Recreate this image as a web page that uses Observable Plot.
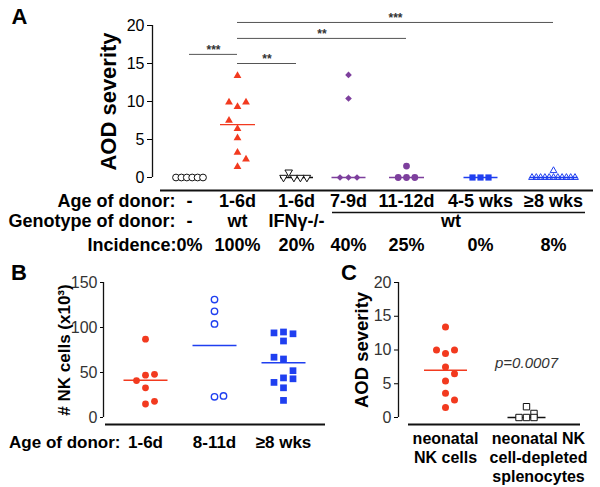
<!DOCTYPE html>
<html>
<head>
<meta charset="utf-8">
<script src="https://cdn.jsdelivr.net/npm/d3@7"></script>
<script src="https://cdn.jsdelivr.net/npm/@observablehq/plot@0.6"></script>
<style>
  html, body { margin: 0; padding: 0; background: #fff; }
  #fig { position: relative; width: 600px; height: 487px; overflow: hidden; }
</style>
</head>
<body>
<div id="fig"></div>
<script>
// ================= DATA =================
// ---- Panel A: AOD severity by donor ----
const groupsA = ["none", "1-6d wt", "1-6d IFNγ-/-", "7-9d wt", "11-12d wt", "4-5 wks wt", "≥8 wks wt"];
const ageA = ["-", "1-6d", "1-6d", "7-9d", "11-12d", "4-5 wks", "≥8 wks"];
const incidenceA = ["0%", "100%", "20%", "40%", "25%", "0%", "8%"];
const genotypeA = ["-", "wt", "IFNγ-/-", "wt"];
const genotypeSpanA = [[0, 0], [1, 1], [2, 2], [3, 6]];
const rowLabelsA = ["Age of donor:", "Genotype of donor:", "Incidence:"];

const sevNone = [0, 0, 0, 0, 0, 0];
const sevNeo = [13.4, 9.9, 9.9, 9.3, 7.5, 6.4, 5.2, 3.3, 2.4, 1.4];
const sevIfng = [0.7, 0, 0, 0, 0];
const sev79 = [13.5, 10.4, 0, 0, 0];
const sev1112 = [1.5, 0, 0, 0];
const sev45w = [0, 0, 0];
const sev8w = [0.9, 0, 0, 0, 0, 0, 0, 0, 0, 0, 0, 0];
// swarm column of each point inside its group
const colNone = [-2.5, -1.5, -0.5, 0.5, 1.5, 2.5];
const colNeo = [0, -1, 1, 0, -1, 0, 0, 0, 1, 0];
const colIfng = [-1.2, -2, -0.4, 0.6, 1.6];
const col79 = [0, 0, -1, 0, 1];
const col1112 = [0, -1, 0, 1];
const col45w = [-1, 0, 1];
const col8w = [0, -5, -4, -3, -2, -1, 0, 1, 2, 3, 4, 5];

const compFrom = [0, 1, 1, 1];
const compTo = [1, 2, 4, 6];
const compStars = ["***", "**", "**", "***"];
const compLevel = [16.2, 15.0, 18.3, 20.4];

// ---- Panel B: NK cell numbers ----
const groupsB = ["1-6d", "8-11d", "≥8 wks"];
const nk16d = [87, 47, 48, 41, 33, 18, 15];
const colNk16d = [0, 0, 1, -1, 0, 1, 0];
const nk811d = [131, 118, 104, 23, 24];
const colNk811d = [0, 0, 0, 0, 1];
const nk8w = [94, 95, 93, 85, 67, 65, 52, 44, 39, 43, 33, 19];
const colNk8w = [-1, 0, 1, 0, -1, 0, 1, 0, -1, 1, 0, 0];

// ---- Panel C: AOD severity, NK cells vs depleted ----
const groupsC = ["neonatal\nNK cells", "neonatal NK\ncell-depleted\nsplenocytes"];
const sevNK = [13.4, 10, 10, 9.5, 7.5, 6.5, 5.4, 3.6, 2.6, 1.5];
const colNK = [0, -1, 1, 0, 0, 1, 0, 0, 1, 0];
const sevDepleted = [1.6, 0.6, 0, 0, 0];
const colDepleted = [0, 1, -1, 0, 1];
const pValueC = "p=0.0007";
const pValueLevelC = 8.1;

// ================= STYLE / HELPERS =================
const FONT = "'Liberation Sans', Arial, Helvetica, sans-serif";
const RED = "#f23a1f", PURPLE = "#7d3f9d", BLUE = "#1f3ff0", INK = "#111111", GRAY = "#555555";

const hline = {draw(ctx, size) { const w = Math.sqrt(size / Math.PI); ctx.moveTo(-w, 0); ctx.lineTo(w, 0); }};
const pts = (g, values, cols) => values.map((v, i) => ({g, v, col: cols[i]}));

function swarm(points, spacing, opts) {
  const cols = Array.from(new Set(points.map(d => d.col)));
  return cols.map(c => Plot.dot(points.filter(d => d.col === c), {x: "g", y: "v", dx: c * spacing, ...opts}));
}
function centerLine(points, reduce, halfWidth, color, sw = 1.3) {
  return Plot.dot(points, Plot.groupX({y: reduce}, {x: "g", y: "v", symbol: hline, r: halfWidth, fill: "none", stroke: color, strokeWidth: sw}));
}
function place(svg, left, top) {
  svg.style.position = "absolute";
  svg.style.left = left + "px";
  svg.style.top = top + "px";
  document.getElementById("fig").appendChild(svg);
}
const baseStyle = {fontFamily: FONT, fontSize: "16px", color: "#000", background: "white"};
const bold = {fontWeight: "bold"};
const mid = {textAnchor: "middle", lineAnchor: "middle"};

// ================= PANEL A =================
const xA = {domain: [-1, 0, 1, 2, 3, 4, 5, 6, 7], range: [152, 189, 237, 296, 348, 406, 480, 553, 593]};
const sxA = d3.scaleLinear().domain(xA.domain).range(xA.range);
const midA = (a, b) => sxA.invert((sxA(a) + sxA(b)) / 2);

const seriesA = [
  pts(0, sevNone, colNone), pts(1, sevNeo, colNeo), pts(2, sevIfng, colIfng),
  pts(3, sev79, col79), pts(4, sev1112, col1112), pts(5, sev45w, col45w), pts(6, sev8w, col8w)
];
const styleA = [
  {spacing: 5.4, line: INK, hw: 16, dot: {symbol: "circle", r: 3.4, fill: "white", stroke: INK, strokeWidth: 1}},
  {spacing: 8.5, line: RED, hw: 17.5, dot: {symbol: "triangle", r: 2.9, fill: RED, stroke: "none"}},
  {spacing: 6.5, line: INK, hw: 16.5, dot: {symbol: "triangle", rotate: 180, r: 2.8, fill: "white", stroke: INK, strokeWidth: 1}},
  {spacing: 8.5, line: PURPLE, hw: 17, dot: {symbol: "diamond2", r: 3, fill: PURPLE, stroke: "none"}},
  {spacing: 8.3, line: PURPLE, hw: 17.5, dot: {symbol: "circle", r: 3.4, fill: PURPLE, stroke: "none"}},
  {spacing: 8, line: BLUE, hw: 17, dot: {symbol: "square", r: 3.5, fill: BLUE, stroke: "none"}},
  {spacing: 4.3, line: BLUE, hw: 24, dot: {symbol: "triangle", r: 2.5, fill: "none", stroke: BLUE, strokeWidth: 1}}
];
const comps = compFrom.map((f, i) => ({from: f, to: compTo[i], stars: compStars[i], level: compLevel[i]}));

const marksA = [
  Plot.ruleX([-1], {y1: 0, y2: 20, stroke: INK, strokeWidth: 1.3}),
  Plot.ruleY([0], {insetLeft: 8, dy: 13, stroke: INK, strokeWidth: 1.8}),
  Plot.axisY({ticks: [0, 5, 10, 15, 20], tickSize: 5, tickPadding: 3, fontSize: 16, label: null}),
  Plot.text(["AOD severity"], {frameAnchor: "left", rotate: -90, dx: -44, fontSize: 22, ...bold, ...mid}),
  Plot.text(["A"], {frameAnchor: "top-left", dx: -133, dy: -9, fontSize: 22, ...bold, ...mid}),
  Plot.ruleY(comps, {x1: "from", x2: "to", y: "level", stroke: GRAY, strokeWidth: 1}),
  Plot.text(comps, {x: d => midA(d.from, d.to), y: "level", text: "stars", dy: -4, fontSize: 12, ...bold, fill: "#333"}),
  ...seriesA.map((s, i) => centerLine(s, "median", styleA[i].hw, styleA[i].line)),
  ...seriesA.flatMap((s, i) => swarm(s, styleA[i].spacing, styleA[i].dot)),
  // rows under the axis
  Plot.text(ageA, {x: (d, i) => i, frameAnchor: "bottom", dy: 24, fontSize: 18, ...bold, ...mid}),
  Plot.text(genotypeA, {x: (d, i) => midA(genotypeSpanA[i][0], genotypeSpanA[i][1]), frameAnchor: "bottom", dy: 44, fontSize: 18, ...bold, ...mid}),
  Plot.text(incidenceA, {x: (d, i) => i, frameAnchor: "bottom", dy: 68, fontSize: 18, ...bold, ...mid}),
  Plot.ruleY([0], {x1: 3, x2: 6, dy: 35, insetLeft: -16, insetRight: -32, stroke: INK, strokeWidth: 1.5}),
  Plot.text([rowLabelsA[0]], {frameAnchor: "bottom-left", dx: 23, dy: 24, textAnchor: "end", lineAnchor: "middle", fontSize: 18, ...bold}),
  Plot.text([rowLabelsA[1]], {frameAnchor: "bottom-left", dx: 23, dy: 44, textAnchor: "end", lineAnchor: "middle", fontSize: 18, ...bold}),
  Plot.text([rowLabelsA[2]], {frameAnchor: "bottom-left", dx: 24, dy: 68, textAnchor: "end", lineAnchor: "middle", fontSize: 18, ...bold})
];

const plotA = Plot.plot({
  width: 600, height: 258, marginLeft: 152, marginRight: 7, marginTop: 25, marginBottom: 81,
  style: baseStyle,
  x: {type: "linear", domain: xA.domain, range: xA.range, axis: null},
  y: {domain: [0, 20], range: [177, 25]},
  marks: marksA
});
place(plotA, 0, 0);

// ================= PANEL B =================
const xB = {domain: [-1, 0, 1, 2, 3], range: [103, 145, 214, 283, 325]};
const seriesB = [pts(0, nk16d, colNk16d), pts(1, nk811d, colNk811d), pts(2, nk8w, colNk8w)];
const styleB = [
  {spacing: 9, line: RED, dot: {symbol: "circle", r: 3.4, fill: RED, stroke: "none"}},
  {spacing: 9, line: BLUE, dot: {symbol: "circle", r: 3.2, fill: "none", stroke: BLUE, strokeWidth: 1.4}},
  {spacing: 9.5, line: BLUE, dot: {symbol: "square", r: 3.8, fill: BLUE, stroke: "none"}}
];
const plotB = Plot.plot({
  width: 330, height: 229, marginLeft: 103, marginRight: 5, marginTop: 24, marginBottom: 70,
  style: baseStyle,
  x: {type: "linear", domain: xB.domain, range: xB.range, axis: null},
  y: {domain: [0, 150], range: [159, 24]},
  marks: [
    Plot.ruleX([-1], {y1: 0, y2: 150, stroke: INK, strokeWidth: 1.3}),
    Plot.ruleY([0], {insetLeft: 2, dy: 7, stroke: INK, strokeWidth: 1.8}),
    Plot.axisY({ticks: [0, 50, 100, 150], tickSize: 3, tickPadding: 3, fontSize: 16, label: null, fill: "#333"}),
    Plot.text(["# NK cells (x10³)"], {frameAnchor: "left", rotate: -90, dx: -39, fontSize: 17, ...bold, ...mid}),
    Plot.text(["B"], {frameAnchor: "top-left", dx: -84.5, dy: -10, fontSize: 22, ...bold, ...mid}),
    ...seriesB.map((s, i) => centerLine(s, "mean", 22, styleB[i].line, 1.5)),
    ...seriesB.flatMap((s, i) => swarm(s, styleB[i].spacing, styleB[i].dot)),
    Plot.text(groupsB, {x: (d, i) => i, frameAnchor: "bottom", dy: 25, fontSize: 17, ...bold, ...mid}),
    Plot.text(["Age of donor:"], {frameAnchor: "bottom-left", dx: 17, dy: 25, textAnchor: "end", lineAnchor: "middle", fontSize: 17, ...bold})
  ]
});
place(plotB, 0, 258);

// ================= PANEL C =================
const xC = {domain: [-1, 0, 1, 2], range: [68, 115, 196, 250]};
const seriesC = [pts(0, sevNK, colNK), pts(1, sevDepleted, colDepleted)];
const styleC = [
  {spacing: 9, line: RED, hw: 21.5, dot: {symbol: "circle", r: 3.5, fill: RED, stroke: "none"}},
  {spacing: 7.5, line: INK, hw: 19, dot: {symbol: "square", r: 3.6, fill: "white", stroke: INK, strokeWidth: 1}}
];
const plotC = Plot.plot({
  width: 270, height: 229, marginLeft: 68, marginRight: 20, marginTop: 24, marginBottom: 70,
  style: baseStyle,
  x: {type: "linear", domain: xC.domain, range: xC.range, axis: null},
  y: {domain: [0, 20], range: [159, 24]},
  marks: [
    Plot.ruleX([-1], {y1: 0, y2: 20, stroke: INK, strokeWidth: 1.3}),
    Plot.ruleY([0], {insetLeft: 10, dy: 7, stroke: INK, strokeWidth: 1.8}),
    Plot.axisY({ticks: [0, 5, 10, 15, 20], tickSize: 4, tickPadding: 3, fontSize: 16, label: null, fill: "#333"}),
    Plot.text(["AOD severity"], {frameAnchor: "left", rotate: -90, dx: -36, fontSize: 18.5, ...bold, ...mid}),
    Plot.text(["C"], {frameAnchor: "top-left", dx: -49.5, dy: -10, fontSize: 22, ...bold, ...mid}),
    ...seriesC.map((s, i) => centerLine(s, "median", styleC[i].hw, styleC[i].line, 1.3)),
    ...seriesC.flatMap((s, i) => swarm(s, styleC[i].spacing, styleC[i].dot)),
    Plot.text([pValueC], {x: () => 1, y: () => pValueLevelC, fontSize: 15, fontStyle: "italic", fill: "#333"}),
    Plot.text([groupsC[0]], {x: () => 0, frameAnchor: "bottom", textAnchor: "middle", lineAnchor: "top", dy: 13, lineHeight: 1.19, fontSize: 16, ...bold}),
    Plot.text([groupsC[1]], {x: () => 1, frameAnchor: "bottom", textAnchor: "middle", lineAnchor: "top", dy: 13, dx: 12, lineHeight: 1.19, fontSize: 16, ...bold})
  ]
});
place(plotC, 330, 258);
</script>
</body>
</html>
